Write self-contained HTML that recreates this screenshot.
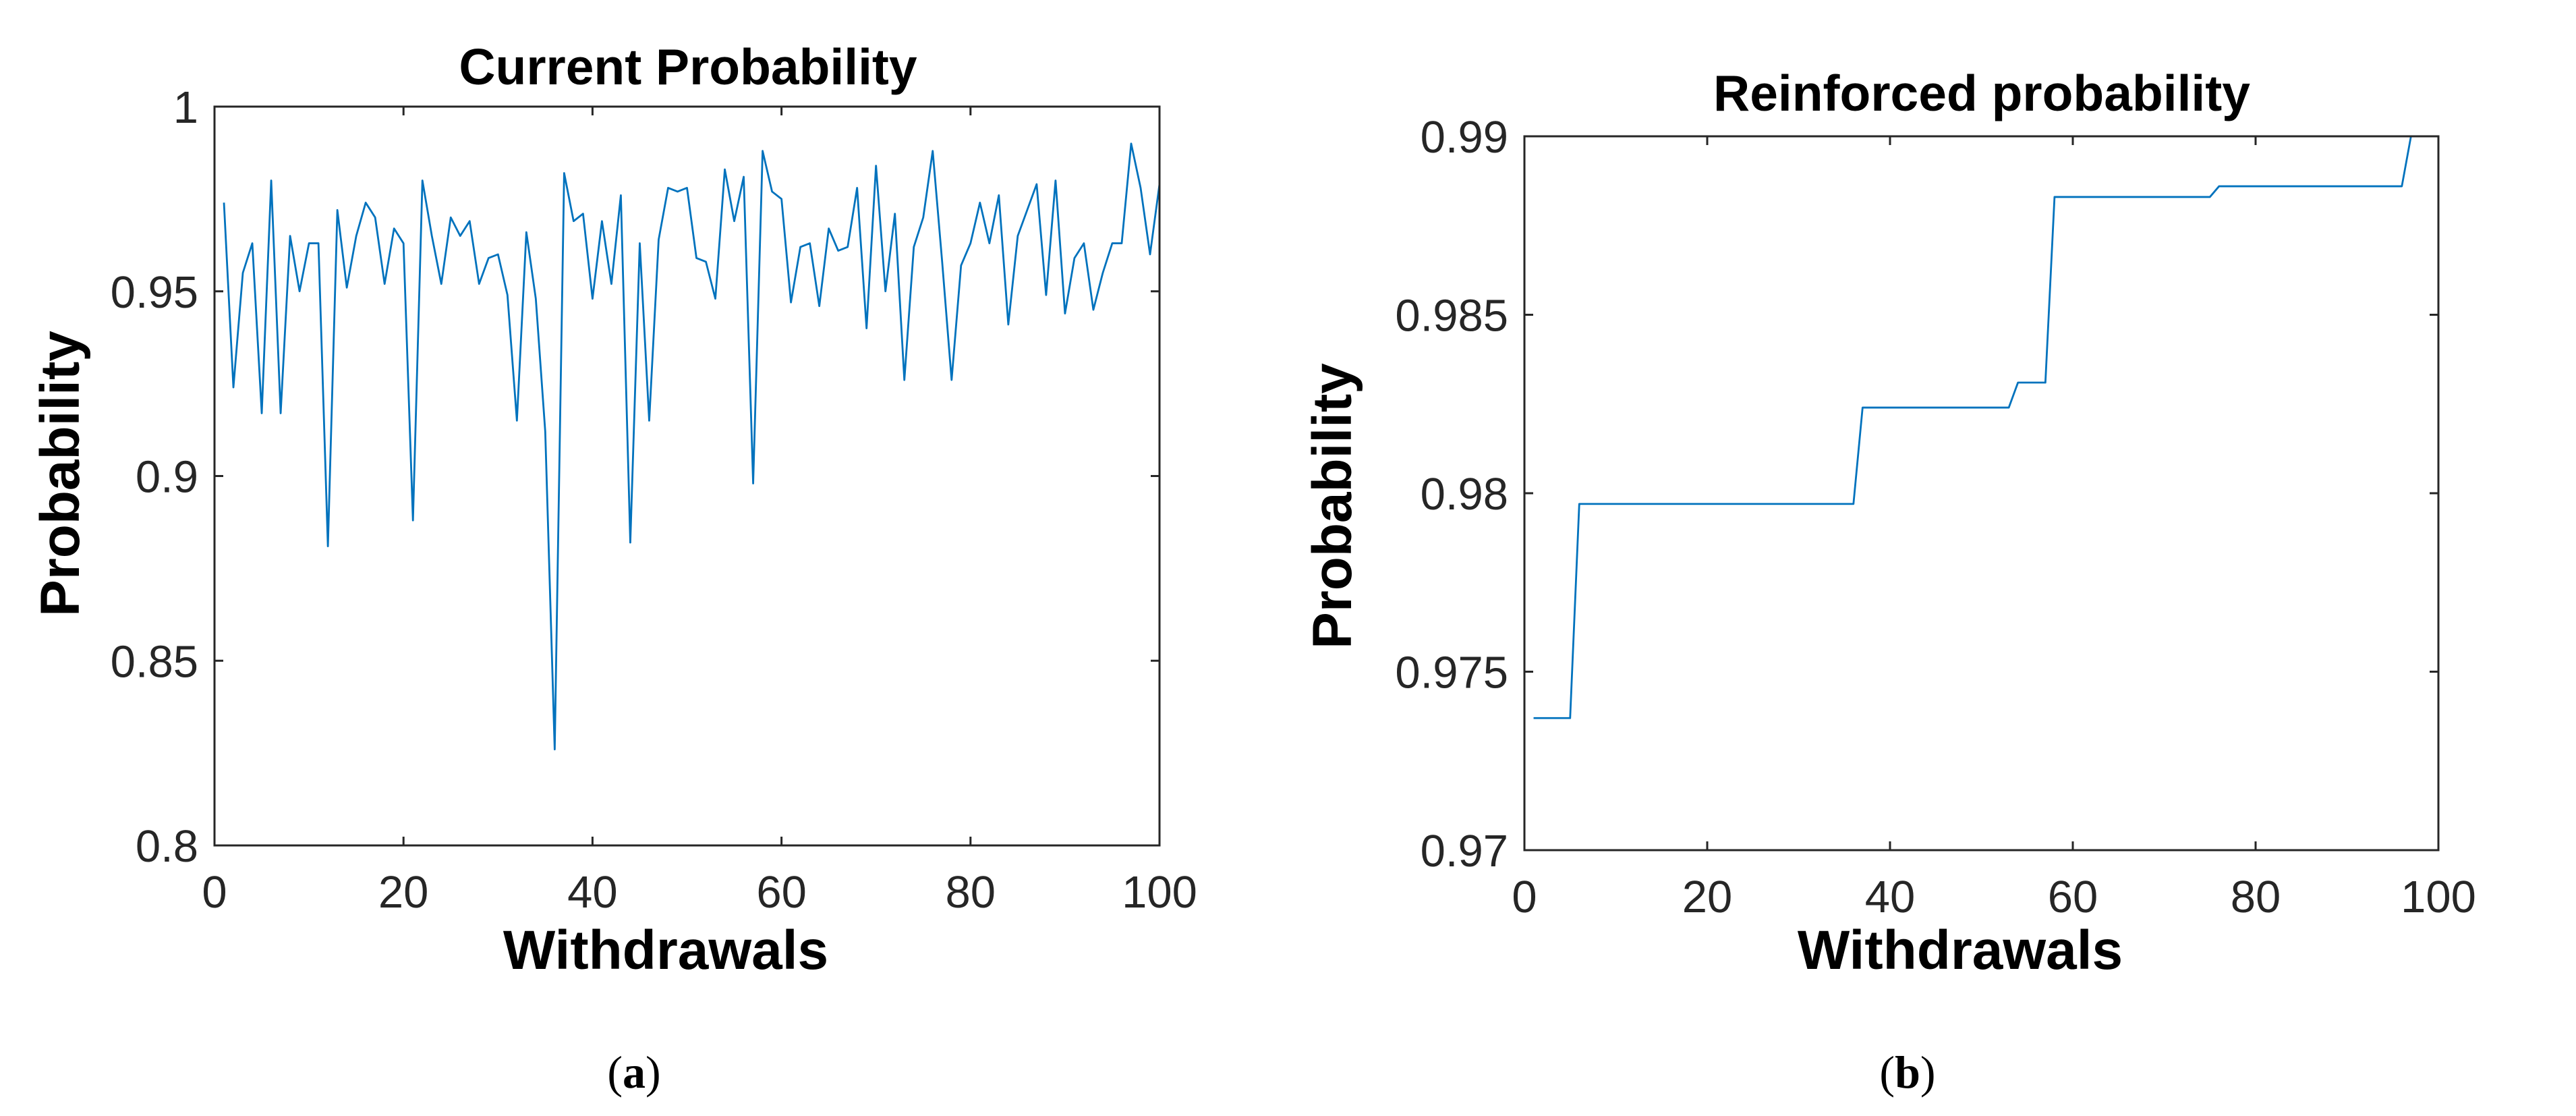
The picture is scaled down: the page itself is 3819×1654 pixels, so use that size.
<!DOCTYPE html>
<html><head><meta charset="utf-8"><style>
html,body{margin:0;padding:0;background:#fff;}
svg{display:block;}
text{font-family:"Liberation Sans",Arial,sans-serif;fill:#262626;}
.t{font-weight:bold;fill:#000;}
.cap{font-family:"Liberation Serif",serif;fill:#000;}
</style></head><body>
<svg id="fig" width="3819" height="1654" viewBox="0 0 3819 1654" xmlns="http://www.w3.org/2000/svg">
<g id="pa"></g>
<g id="pb"></g>
<text class="cap" x="940" y="1612" font-size="68" text-anchor="middle">(<tspan font-weight="bold">a</tspan>)</text>
<text class="cap" x="2828" y="1612" font-size="68" text-anchor="middle">(<tspan font-weight="bold">b</tspan>)</text>
</svg>
<script>
const currentValues = [0.974,0.924,0.955,0.963,0.917,0.980,0.917,0.965,0.950,0.963,0.963,0.881,0.972,0.951,0.965,0.974,0.970,0.952,0.967,0.963,0.888,0.980,0.965,0.952,0.970,0.965,0.969,0.952,0.959,0.960,0.949,0.915,0.966,0.948,0.912,0.826,0.982,0.969,0.971,0.948,0.969,0.952,0.976,0.882,0.963,0.915,0.964,0.978,0.977,0.978,0.959,0.958,0.948,0.983,0.969,0.981,0.898,0.988,0.977,0.975,0.947,0.962,0.963,0.946,0.967,0.961,0.962,0.978,0.940,0.984,0.950,0.971,0.926,0.962,0.970,0.988,0.958,0.926,0.957,0.963,0.974,0.963,0.976,0.941,0.965,0.972,0.979,0.949,0.980,0.944,0.959,0.963,0.945,0.955,0.963,0.963,0.990,0.978,0.960,0.979];
const reinforcedLevels = [0.9737,0.9797,0.9824,0.9831,0.9883,0.9886,0.99];
const reinforcedStepStarts = [1,6,37,54,58,76,97];
const xTicks = [0,20,40,60,80,100];
const yTicksA = [0.8,0.85,0.9,0.95,1];
const yTickLabelsA = ["0.8","0.85","0.9","0.95","1"];
const yTicksB = [0.97,0.975,0.98,0.985,0.99];
const yTickLabelsB = ["0.97","0.975","0.98","0.985","0.99"];

const NS="http://www.w3.org/2000/svg";
function mk(tag,attrs,parent){const e=document.createElementNS(NS,tag);for(const k in attrs)e.setAttribute(k,attrs[k]);parent.appendChild(e);return e;}

function reinforcedSeries(){
  const out=[];
  for(let x=1;x<=100;x++){let v=reinforcedLevels[0];for(let i=0;i<reinforcedStepStarts.length;i++){if(x>=reinforcedStepStarts[i])v=reinforcedLevels[i];}out.push(v);}
  return out;
}

function drawChart(g,box,ymin,ymax,yTicks,yLabels,values,title,titleX,titleY,ylabX,ylabY,xlabX){
  const sx=v=>box.l+(v-0)/(100-0)*(box.r-box.l);
  const sy=v=>box.b-(v-ymin)/(ymax-ymin)*(box.b-box.t);
  let pts=values.map((v,i)=>sx(i+1).toFixed(2)+","+sy(v).toFixed(2)).join(" ");
  const line=mk("polyline",{points:pts,fill:"none",stroke:"#0072BD","stroke-width":"2.8","stroke-linejoin":"round"},g);
  
  
  const frame=mk("rect",{x:box.l,y:box.t,width:box.r-box.l,height:box.b-box.t,fill:"none",stroke:"#262626","stroke-width":"3"},g);
  
  
  xTicks.forEach(t=>{
    const x=sx(t);
    mk("line",{x1:x,x2:x,y1:box.b,y2:box.b-13,stroke:"#262626","stroke-width":"3"},g);
    mk("line",{x1:x,x2:x,y1:box.t,y2:box.t+13,stroke:"#262626","stroke-width":"3"},g);
    const tx=mk("text",{x:x,y:box.b+92,"font-size":"67","text-anchor":"middle"},g);
    tx.textContent=t;
    
    
  });
  yTicks.forEach((t,i)=>{
    const y=sy(t);
    mk("line",{x1:box.l,x2:box.l+13,y1:y,y2:y,stroke:"#262626","stroke-width":"3"},g);
    mk("line",{x1:box.r,x2:box.r-13,y1:y,y2:y,stroke:"#262626","stroke-width":"3"},g);
    const tx=mk("text",{x:box.l-24,y:y+24,"font-size":"67","text-anchor":"end"},g);
    tx.textContent=yLabels[i];
    
    
  });
  const ti=mk("text",{x:titleX,y:titleY,"font-size":"75","text-anchor":"middle",class:"t"},g);
  ti.textContent=title;
  
  
  const xl=mk("text",{x:xlabX,y:1436,"font-size":"82","text-anchor":"middle",class:"t"},g);
  xl.textContent="Withdrawals";
  
  
  const yl=mk("text",{x:0,y:0,"font-size":"82","text-anchor":"middle",class:"t",transform:"translate("+(ylabX+30)+","+ylabY+") rotate(-90)"},g);
  yl.textContent="Probability";
  
  
}

drawChart(document.getElementById("pa"),{l:318,r:1719,t:158,b:1253},0.8,1,yTicksA,yTickLabelsA,currentValues,"Current Probability",1020,125,87,702,987);
drawChart(document.getElementById("pb"),{l:2260,r:3615,t:202,b:1260},0.97,0.99,yTicksB,yTickLabelsB,reinforcedSeries(),"Reinforced probability",2938,164,1973,750,2906);
</script>
</body></html>
